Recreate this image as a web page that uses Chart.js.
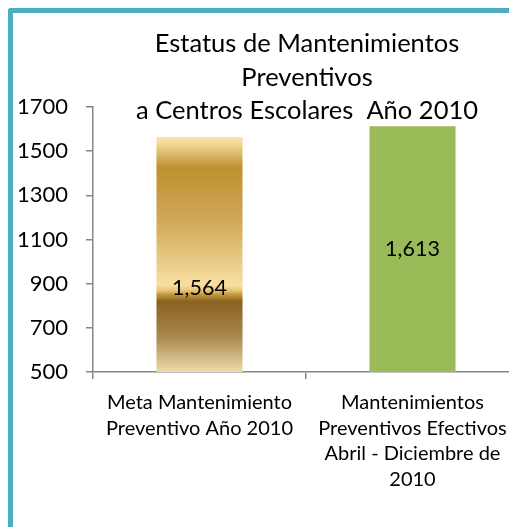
<!DOCTYPE html>
<html>
<head>
<meta charset="utf-8">
<script src="https://cdn.jsdelivr.net/npm/chart.js@4/dist/chart.umd.min.js"></script>
<style>
  html, body { margin: 0; padding: 0; background: #ffffff; overflow: hidden; width: 509px; height: 527px; }
  #frame { position: absolute; left: 8px; top: 8px; width: 700px; height: 700px;
           border-left: 5px solid #4BACC6; border-top: 5px solid #4BACC6; border-top-left-radius: 3px; }
  #wrap { position: absolute; left: 0; top: 0; width: 530px; height: 527px; }
</style>
</head>
<body>
<div id="frame"></div>
<div id="wrap"><canvas id="c" width="530" height="527"></canvas></div>
<script>
// ---- data ----
const categories = [
  ["Meta Mantenimiento", "Preventivo Año 2010"],
  ["Mantenimientos", "Preventivos Efectivos", "Abril - Diciembre de", "2010"]
];
const values = [1564, 1613];
const yTicks = [500, 700, 900, 1100, 1300, 1500, 1700];
const titleLines = ["Estatus de Mantenimientos", "Preventivos", "a Centros Escolares  Año 2010"];

const FONT = "Lato, 'Open Sans', sans-serif";
const AXIS = '#868686';

function goldGradient(ctx) {
  const chart = ctx.chart;
  const ys = chart.scales && chart.scales.y;
  if (!chart.chartArea || !ys) return '#C9A04A';
  const top = ys.getPixelForValue(values[ctx.dataIndex]);
  const bot = ys.getPixelForValue(ys.min);
  const g = chart.ctx.createLinearGradient(0, top, 0, bot);
  g.addColorStop(0.00, '#F9E4AA');
  g.addColorStop(0.03, '#F3D795');
  g.addColorStop(0.13, '#BE902F');
  g.addColorStop(0.35, '#D1A757');
  g.addColorStop(0.63, '#F8DFA1');
  g.addColorStop(0.655, '#E6C177');
  g.addColorStop(0.67, '#C49A3F');
  g.addColorStop(0.70, '#8B6220');
  g.addColorStop(0.85, '#A7884F');
  g.addColorStop(1.00, '#F0DAA9');
  return g;
}

const titlePlugin = {
  id: 'multiTitle',
  afterDraw(chart, args, opts) {
    const { ctx, chartArea } = chart;
    const cx = (chartArea.left + chartArea.right) / 2 + opts.dx;
    ctx.save();
    ctx.font = opts.size + 'px ' + FONT;
    ctx.fillStyle = '#000000';
    ctx.textAlign = 'center';
    ctx.textBaseline = 'alphabetic';
    titleLines.forEach((t, i) => ctx.fillText(t, cx, opts.firstBaseline + i * opts.lineGap));
    ctx.restore();
  }
};

const valueLabels = {
  id: 'valueLabels',
  afterDatasetsDraw(chart, args, opts) {
    const { ctx, chartArea } = chart;
    const meta = chart.getDatasetMeta(0);
    ctx.save();
    ctx.font = opts.size + 'px ' + FONT;
    ctx.fillStyle = '#000000';
    ctx.textAlign = 'center';
    ctx.textBaseline = 'middle';
    meta.data.forEach((bar, i) => {
      const base = Math.min(bar.base, chartArea.bottom);
      const y = (bar.y + base) / 2 + (opts.offsets[i] || 0);
      ctx.fillText(values[i].toLocaleString('en-US'), bar.x, y);
    });
    ctx.restore();
  }
};

new Chart(document.getElementById('c'), {
  type: 'bar',
  data: {
    labels: categories,
    datasets: [{
      data: values,
      backgroundColor: (ctx) => ctx.dataIndex === 0 ? goldGradient(ctx) : '#9BBB59',
      borderWidth: 0,
      barPercentage: 0.404,
      categoryPercentage: 1.0
    }]
  },
  options: {
    responsive: false,
    animation: false,
    devicePixelRatio: 1,
    layout: { padding: { left: 0, right: 11, top: 107, bottom: 0 } },
    plugins: {
      legend: { display: false },
      title: { display: false },
      tooltip: { enabled: false },
      multiTitle: { size: 25.5, firstBaseline: 52, lineGap: 33.5, dx: 1 },
      valueLabels: { size: 21.5, offsets: [34, 0] }
    },
    scales: {
      y: {
        min: 500, max: 1700,
        afterBuildTicks: (s) => { s.ticks = yTicks.map(v => ({ value: v })); },
        afterFit: (s) => { s.width = 93; },
        border: { display: true, color: AXIS, width: 1.5 },
        grid: { drawOnChartArea: false, drawTicks: true, tickLength: 7, color: AXIS, lineWidth: 1.5 },
        ticks: { color: '#000000', padding: 18, font: { family: FONT, size: 22 },
                 callback: (v) => String(v) }
      },
      x: {
        afterFit: (s) => { s.height = 155; },
        border: { display: true, color: AXIS, width: 1.5 },
        grid: { drawOnChartArea: false, drawTicks: true, tickLength: 7, color: AXIS, lineWidth: 1.5, offset: true },
        ticks: { color: '#000000', padding: 11, maxRotation: 0, autoSkip: false,
                 font: { family: FONT, size: 20, lineHeight: 1.28 } }
      }
    }
  },
  plugins: [titlePlugin, valueLabels]
});
</script>
</body>
</html>
